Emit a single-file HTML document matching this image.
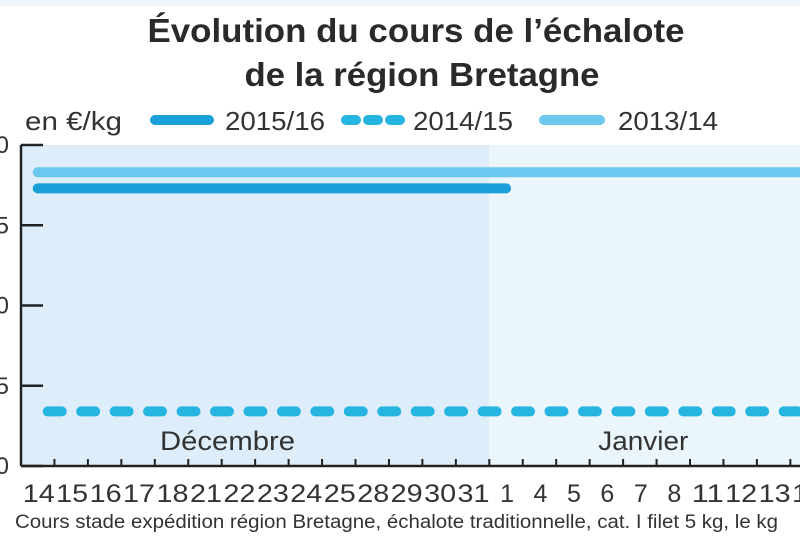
<!DOCTYPE html>
<html><head><meta charset="utf-8"><style>
html,body{margin:0;padding:0;background:#fff;}
svg{display:block;font-family:"Liberation Sans",sans-serif;}
</style></head><body>
<svg id="chart" width="800" height="550" viewBox="0 0 800 550">
<rect x="0" y="0" width="800" height="550" fill="#fff"/>
<rect x="0" y="0" width="800" height="6" fill="#eef5fb"/>
<text x="416" y="42" text-anchor="middle" font-size="33" font-weight="bold" fill="#2a2a2a" textLength="537" lengthAdjust="spacingAndGlyphs">Évolution du cours de l’échalote</text>
<text x="422" y="86" text-anchor="middle" font-size="33" font-weight="bold" fill="#2a2a2a" textLength="355" lengthAdjust="spacingAndGlyphs">de la région Bretagne</text>
<g font-size="26" fill="#333">
<text x="25" y="130" textLength="97" lengthAdjust="spacingAndGlyphs">en €/kg</text>
<line x1="155" y1="120" x2="209" y2="120" stroke="#1a9fd8" stroke-width="10" stroke-linecap="round"/>
<text x="225" y="130" textLength="100" lengthAdjust="spacingAndGlyphs">2015/16</text>
<line x1="346" y1="120" x2="400" y2="120" stroke="#25b5e0" stroke-width="10" stroke-linecap="round" stroke-dasharray="10 12"/>
<text x="413" y="130" textLength="100" lengthAdjust="spacingAndGlyphs">2014/15</text>
<line x1="544" y1="120" x2="600" y2="120" stroke="#6cc8ee" stroke-width="10" stroke-linecap="round"/>
<text x="618" y="130" textLength="100" lengthAdjust="spacingAndGlyphs">2013/14</text>
</g>
<g id="plot"></g>
<text x="15" y="528" font-size="19" fill="#333" textLength="763" lengthAdjust="spacingAndGlyphs">Cours stade expédition région Bretagne, échalote traditionnelle, cat. I filet 5 kg, le kg</text>
</svg>
<script>
const categories = ["14","15","16","17","18","21","22","23","24","25","28","29","30","31","1","4","5","6","7","8","11","12","13","14"];
const yTicks = [0, 0.5, 1, 1.5, 2];
const yTickLabels = ["0","0,5","1,0","1,5","2,0"];
const s2015 = [1.73,1.73,1.73,1.73,1.73,1.73,1.73,1.73,1.73,1.73,1.73,1.73,1.73,1.73,1.73];
const s2014 = [0.34,0.34,0.34,0.34,0.34,0.34,0.34,0.34,0.34,0.34,0.34,0.34,0.34,0.34,0.34,0.34,0.34,0.34,0.34,0.34,0.34,0.34,0.34,0.34];
const s2013 = [1.83,1.83,1.83,1.83,1.83,1.83,1.83,1.83,1.83,1.83,1.83,1.83,1.83,1.83,1.83,1.83,1.83,1.83,1.83,1.83,1.83,1.83,1.83,1.83];
const months = [{label:"Décembre", start:0, end:14}, {label:"Janvier", start:14, end:24}];

const NS="http://www.w3.org/2000/svg";
const X0=21, BAND=33.45, YTOP=145, YBOT=466, YMAX=2;
function xb(i){return X0+i*BAND;}
function xc(i){return X0+(i+0.5)*BAND;}
function y(v){return YBOT-(v/YMAX)*(YBOT-YTOP);}
const g=document.getElementById('plot');
function mk(tag,attrs){const e=document.createElementNS(NS,tag);for(const k in attrs)e.setAttribute(k,attrs[k]);g.appendChild(e);return e;}

const fills=["#ddeefa","#ebf5fc"];
const monthOffsets=[139,109];
const monthWidths=[135,90];
months.forEach((m,k)=>{
  const r=mk('rect',{x:xb(m.start),y:YTOP,width:Math.min(800,xb(m.end))-xb(m.start)+ (k===1?20:0),height:YBOT-YTOP,fill:fills[k]});
  
  
  const t=mk('text',{x:xb(m.start)+monthOffsets[k],y:450,'font-size':27,fill:'#333',textLength:monthWidths[k],lengthAdjust:'spacingAndGlyphs'});
  t.textContent=m.label;
  
  
});

function series(data,color,dash,name){
  const pts=data.map((v,i)=>xc(i)+','+y(v)).join(' ');
  const a={points:pts,fill:'none',stroke:color,'stroke-width':10,'stroke-linecap':'round','stroke-linejoin':'round'};
  if(dash){a['stroke-dasharray']='14 19.45';a['stroke-dashoffset']='-10';}
  const p=mk('polyline',a);
  
  
}
series(s2013,'#6cc8ee',false,'line-2013-14');
series(s2015,'#1a9fd8',false,'line-2015-16');
series(s2014,'#25b5e0',true,'line-2014-15');

const ax=mk('line',{x1:X0,y1:YTOP,x2:X0,y2:YBOT,stroke:'#222','stroke-width':2.5});


const bx=mk('line',{x1:X0,y1:YBOT,x2:800,y2:YBOT,stroke:'#222','stroke-width':2.5});



yTicks.forEach((v,i)=>{
  const t=mk('line',{x1:X0,y1:y(v),x2:X0+22,y2:y(v),stroke:'#222','stroke-width':2.5});
  
  
  const l=mk('text',{x:9,y:y(v)+8,'text-anchor':'end','font-size':24,fill:'#333'});
  l.textContent=yTickLabels[i];
  
  
});

categories.forEach((c,i)=>{
  const t=mk('line',{x1:xb(i+1),y1:YBOT,x2:xb(i+1),y2:YBOT-7,stroke:'#222','stroke-width':2});
  
  
  const l=mk('text',{x:xc(i)+1,y:502,'text-anchor':'middle','font-size':25,fill:'#333'});
  if(c.length===2){l.setAttribute('textLength','32');l.setAttribute('lengthAdjust','spacingAndGlyphs');}
  l.textContent=c;
  
  
});
</script>
</body></html>
